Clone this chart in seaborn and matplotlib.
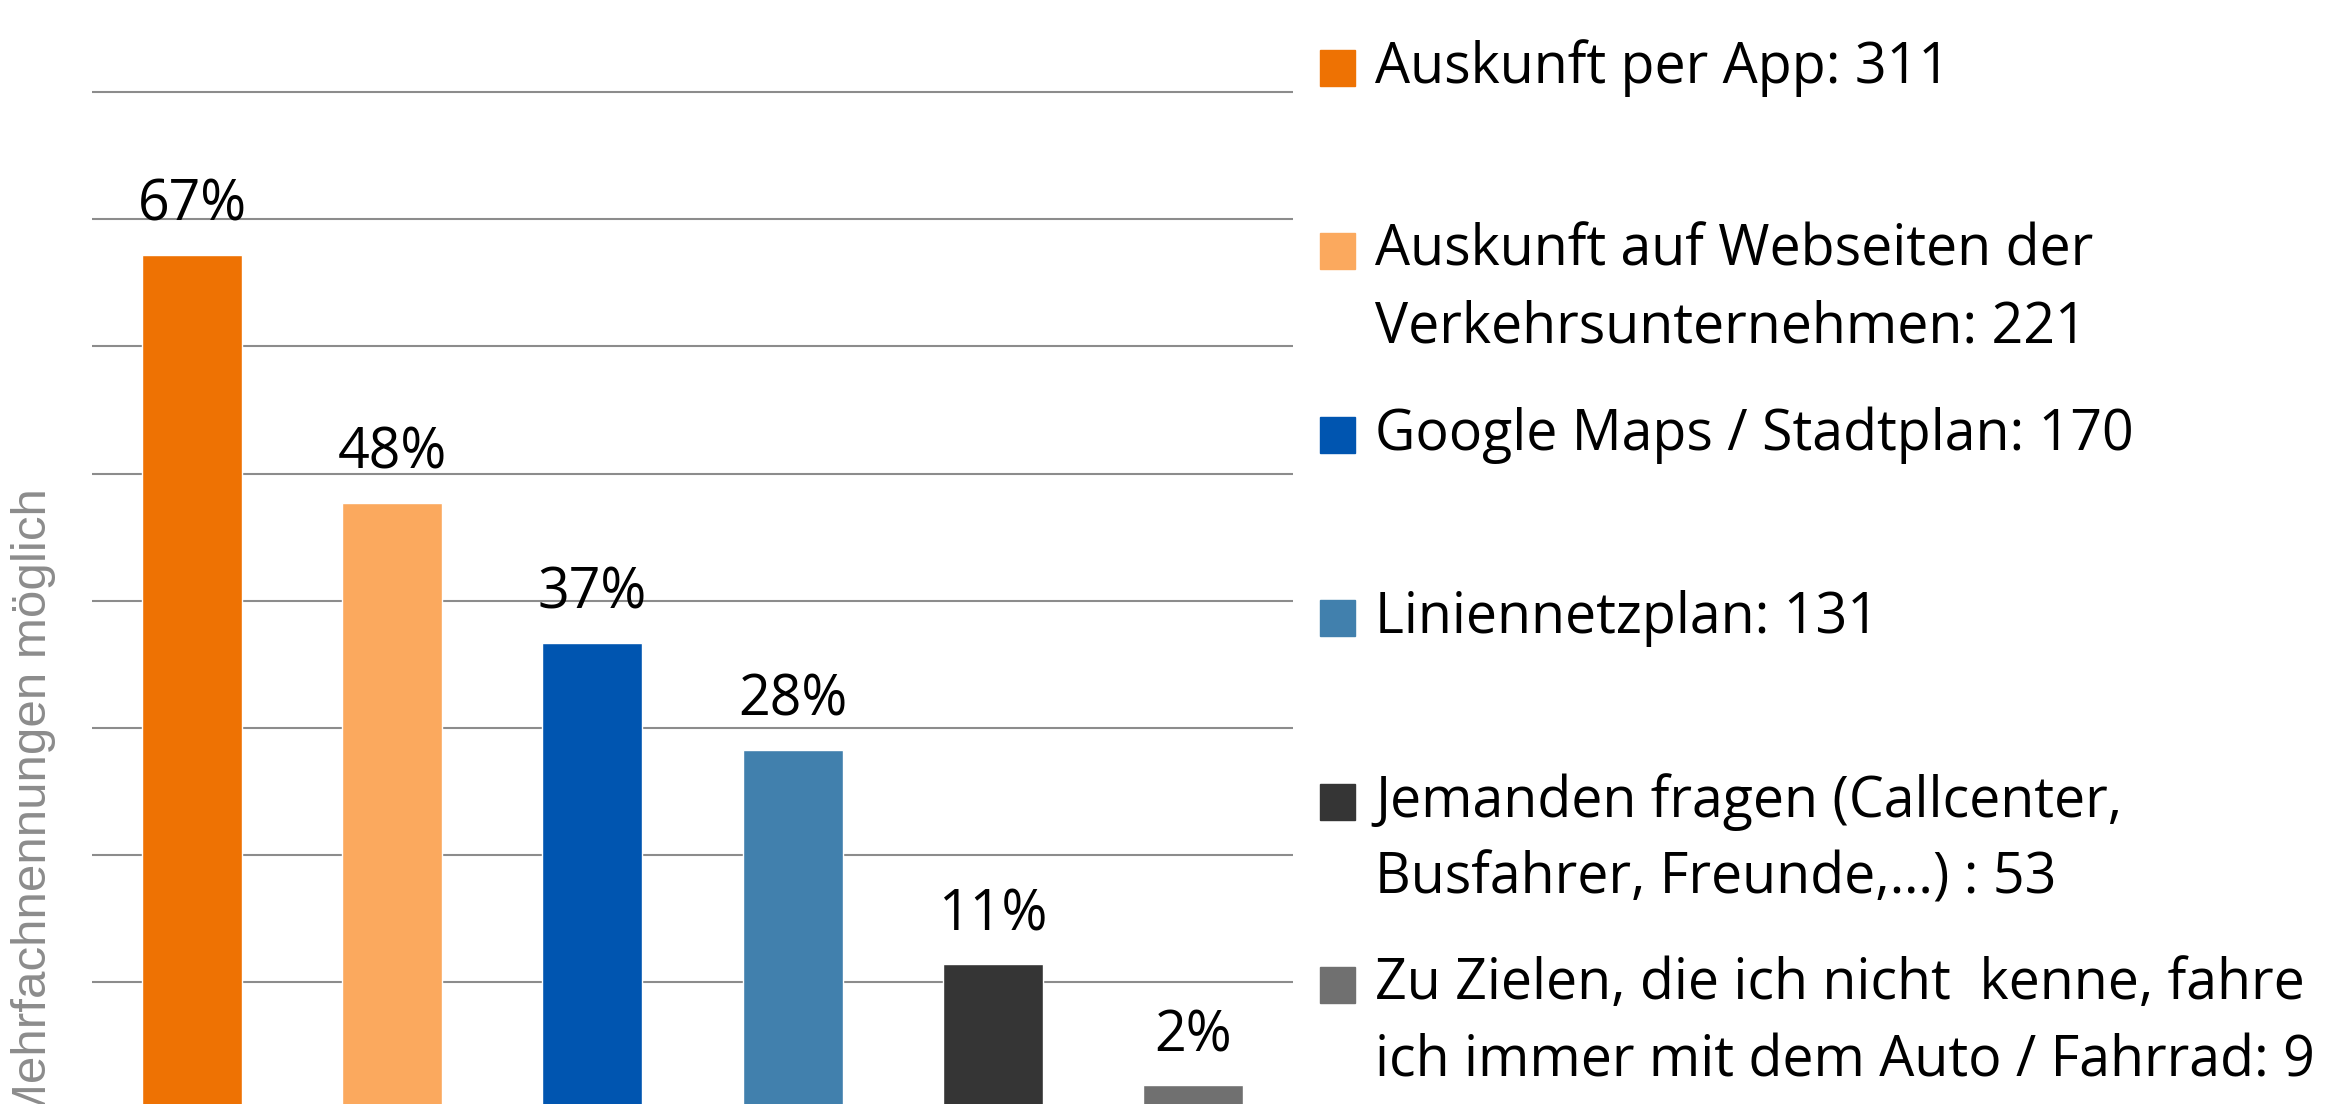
import matplotlib
matplotlib.use("Agg")
import matplotlib.pyplot as plt
from matplotlib import font_manager
from matplotlib.patches import Rectangle
import seaborn as sns
import pandas as pd

# values (share of respondents in %, multiple answers allowed)
categories = ["Auskunft per App", "Auskunft auf Webseiten der Verkehrsunternehmen",
              "Google Maps / Stadtplan", "Liniennetzplan",
              "Jemanden fragen", "Auto / Fahrrad"]
shares = [67.2, 47.7, 36.7, 28.3, 11.4, 1.9]
share_labels = ["67%", "48%", "37%", "28%", "11%", "2%"]
legend_labels = ["Auskunft per App: 311",
                 "Auskunft auf Webseiten der\nVerkehrsunternehmen: 221",
                 "Google Maps / Stadtplan: 170",
                 "Liniennetzplan: 131",
                 "Jemanden fragen (Callcenter,\nBusfahrer, Freunde,…) : 53",
                 "Zu Zielen, die ich nicht  kenne, fahre\nich immer mit dem Auto / Fahrrad: 9"]
colors = ["#EE7203", "#FBA95E", "#0055B0", "#4180AD", "#353535", "#707070"]
ylabel = "Mehrfachnennungen möglich"

df = pd.DataFrame({"cat": categories, "share": shares})

sns.set_theme(style="white")
plt.rcParams["font.family"] = ["Open Sans", "DejaVu Sans"]

W, H = 2330, 1104
fig = plt.figure(figsize=(W / 100, H / 100), dpi=100)
ax = fig.add_axes([92 / W, 0, (1293 - 92) / W, 1])

sns.barplot(data=df, x="cat", y="share", hue="cat", palette=colors,
            width=0.5, saturation=1, legend=False, ax=ax, zorder=3)

ax.set_ylim(0.42, 87.25)
ax.set_xlim(-0.5, 5.5)
ax.set_yticks(range(10, 81, 10))
ax.yaxis.grid(True, color="#8c8c8c", linewidth=1.5)
ax.set_axisbelow(True)
ax.set_xticks([])
ax.set_yticklabels([])
ax.tick_params(left=False, bottom=False)
ax.set_xlabel("")
ax.set_ylabel("")
sns.despine(ax=ax, left=True, bottom=True)

for i, (v, lab) in enumerate(zip(shares, share_labels)):
    ax.annotate(lab, (i, v), xytext=(0, 35), textcoords="offset points",
                ha="center", va="center", fontsize=40, color="black")

# y axis label (partly cut at the figure edge like the original)
names = {f.name for f in font_manager.fontManager.ttflist}
if "Liberation Sans Narrow" in names:
    yl_family, yl_size = "Liberation Sans Narrow", 38
else:
    yl_family, yl_size = "Liberation Sans", 35.5
fig.text(34 / W, 1 - 488 / H, ylabel, rotation=90, ha="center", va="top",
         fontsize=yl_size, color="#8c8c8c", family=yl_family)

# legend drawn at the right side
line_step = 77
for i, (lab, col) in enumerate(zip(legend_labels, colors)):
    yc = 68 + i * 183.4
    fig.patches.append(Rectangle((1320 / W, 1 - (yc + 18) / H), 35 / W, 36 / H,
                                 transform=fig.transFigure, color=col))
    for j, line in enumerate(lab.split("\n")):
        fig.text(1375 / W, 1 - (yc + j * line_step) / H, line, ha="left",
                 va="center", fontsize=40, color="black")

fig.savefig("out.png", dpi=100)
